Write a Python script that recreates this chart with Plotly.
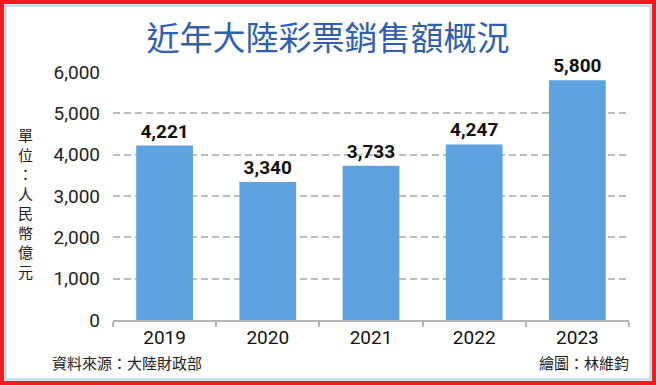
import plotly.graph_objects as go

years = ["2019", "2020", "2021", "2022", "2023"]
sales = [4221, 3340, 3733, 4247, 5800]
y_ticks = [0, 1000, 2000, 3000, 4000, 5000, 6000]
y_tick_text = ["0", "1,000", "2,000", "3,000", "4,000", "5,000", "6,000"]
title_text = "近年大陸彩票銷售額概況"
unit_label = "單位：人民幣億元"
source_text = "資料來源：大陸財政部"
credit_text = "繪圖：林維鈞"

W, H = 656, 385
L, R, T, B = 113, 27, 72, 65
PW, PH = W - L - R, H - T - B

def px_x(p):
    return (p - L) / PW

def px_y(p):
    return (H - B - p) / PH

CJK = "Noto Sans CJK TC"
NUM = "Roboto"

fig = go.Figure()
fig.add_trace(go.Bar(
    x=years, y=sales,
    marker=dict(color="#5ea2e0", line=dict(width=0)),
    texttemplate="%{y:,}", textposition="outside",
    textfont=dict(family=NUM, size=19, color="#111111", weight="bold"),
    cliponaxis=False, width=0.55,
))

annotations = [
    dict(text="<br>".join(unit_label), x=px_x(25), y=px_y(203), xref="paper", yref="paper",
         xanchor="center", yanchor="middle", showarrow=False,
         font=dict(family=CJK, size=15, color="#222222")),
    dict(text=source_text, x=px_x(50), y=px_y(362), xref="paper", yref="paper",
         xanchor="left", yanchor="middle", showarrow=False,
         font=dict(family=CJK, size=15, color="#222222")),
    dict(text=credit_text, x=px_x(631), y=px_y(362), xref="paper", yref="paper",
         xanchor="right", yanchor="middle", showarrow=False,
         font=dict(family=CJK, size=15, color="#222222")),
]

shapes = [
    dict(type="rect", xref="paper", yref="paper",
         x0=px_x(2), x1=px_x(W - 2), y0=px_y(2), y1=px_y(H - 2),
         line=dict(color="#ee1c1c", width=4), fillcolor="rgba(0,0,0,0)"),
    dict(type="rect", xref="paper", yref="paper",
         x0=px_x(5.5), x1=px_x(W - 5.5), y0=px_y(5.5), y1=px_y(H - 5.5),
         line=dict(color="#a9d6f3", width=2), fillcolor="rgba(0,0,0,0)"),
]

fig.update_layout(
    width=W, height=H,
    margin=dict(l=L, r=R, t=T, b=B, pad=0),
    paper_bgcolor="white", plot_bgcolor="white",
    showlegend=False,
    title=dict(text=title_text, x=0.5, xanchor="center", xref="container",
               y=1 - 38 / H, yanchor="middle", yref="container",
               font=dict(family=CJK, size=33, color="#2f5fae")),
    bargap=0.45,
    annotations=annotations,
    shapes=shapes,
)
fig.update_xaxes(
    showline=True, linecolor="#b4b4b4", linewidth=1.5,
    ticks="outside", tickson="boundaries", ticklen=5, tickcolor="#b4b4b4", tickwidth=1.5,
    showgrid=False,
    tickfont=dict(family=NUM, size=19, color="#111111"),
    ticklabelstandoff=-1,
)
fig.update_yaxes(
    range=[0, 6000], tickvals=y_ticks, ticktext=y_tick_text,
    showgrid=True, gridcolor="#bdbdbd", gridwidth=2, griddash="7px,4px",
    zeroline=False, showline=False, ticks="",
    tickfont=dict(family=NUM, size=19, color="#222222"),
    ticklabelstandoff=12,
)

fig.write_html(
    "out.html",
    config={"displayModeBar": False},
    post_script="document.body.style.margin='0';document.body.style.overflow='hidden';",
)
